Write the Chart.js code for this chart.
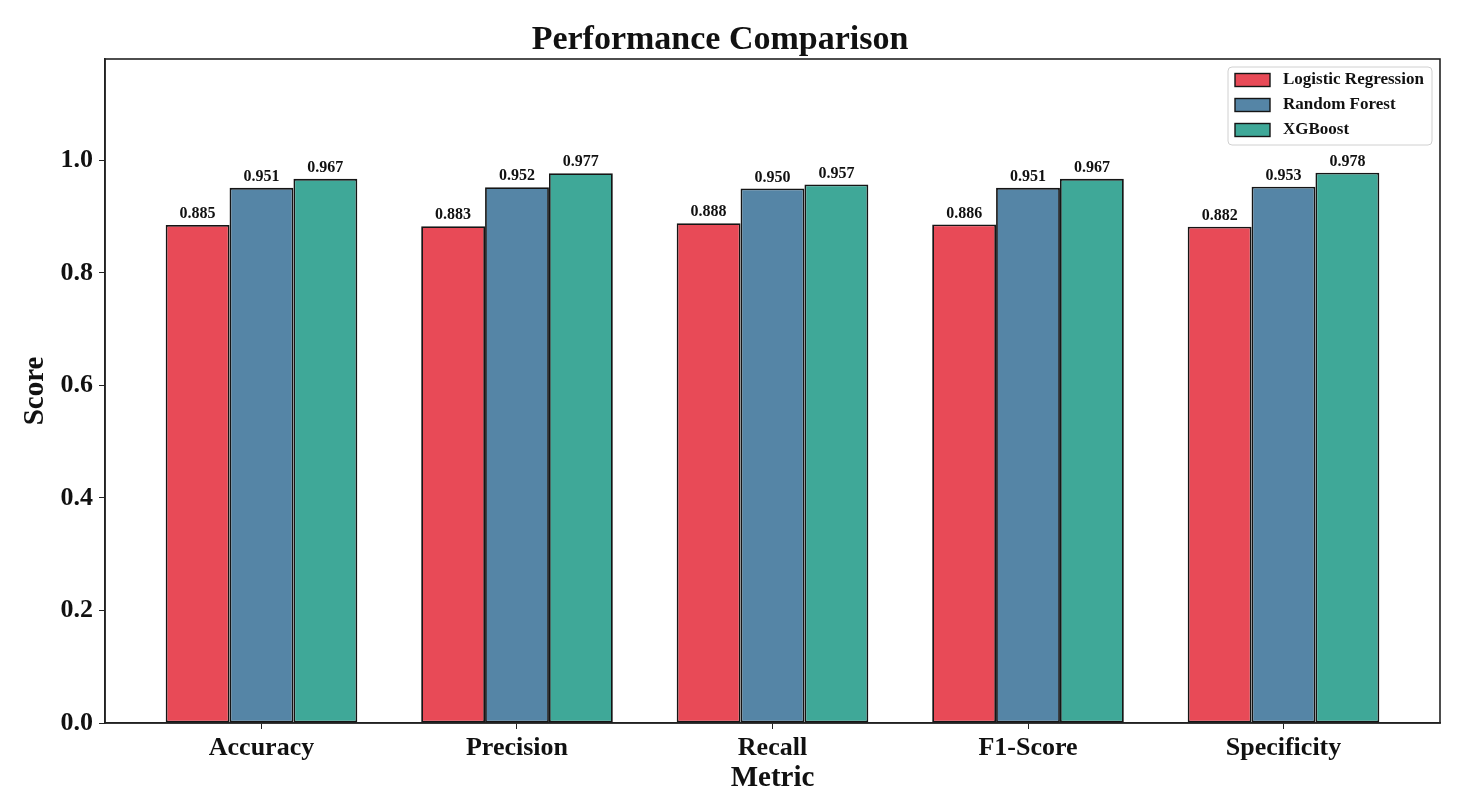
<!DOCTYPE html>
<html>
<head>
<meta charset="utf-8">
<script src="https://cdn.jsdelivr.net/npm/chart.js@4.4.0/dist/chart.umd.min.js"></script>
<style>
  html, body { margin: 0; padding: 0; background: #fff; }
  #wrap { width: 1467px; height: 808px; }
</style>
</head>
<body>
<div id="wrap"><canvas id="barCanvas" width="1467" height="808"></canvas></div>
<script>
const categories = ['Accuracy', 'Precision', 'Recall', 'F1-Score', 'Specificity'];
const seriesNames = ['Logistic Regression', 'Random Forest', 'XGBoost'];
const logisticValues = [0.885, 0.883, 0.888, 0.886, 0.882];
const forestValues = [0.951, 0.952, 0.950, 0.951, 0.953];
const xgbValues = [0.967, 0.977, 0.957, 0.967, 0.978];
const yTicks = [0.0, 0.2, 0.4, 0.6, 0.8, 1.0];

const colors = ['#E84A57', '#5585A6', '#3FA898'];
const serif = "'Liberation Serif', 'Times New Roman', serif";

let toPoints = function (vals) {
    return vals.map(function (v, i) { return { x: i, y: v }; });
};

let makeSet = function (name, vals, color) {
    return {
        label: name,
        data: toPoints(vals),
        backgroundColor: color,
        borderColor: '#151515',
        borderWidth: 1.8,
        borderSkipped: false,
        categoryPercentage: 0.75,
        barPercentage: 1.0
    };
};

// frame + value labels + legend box inside the plot
let extrasPlugin = {
    id: 'extras',
    afterDatasetsDraw: function (chart) {
        let ctx = chart.ctx;
        let a = chart.chartArea;
        ctx.save();
        ctx.font = 'bold 16px ' + serif;
        ctx.fillStyle = '#111';
        ctx.textAlign = 'center';
        ctx.textBaseline = 'bottom';
        chart.data.datasets.forEach(function (ds, di) {
            chart.getDatasetMeta(di).data.forEach(function (bar, i) {
                ctx.fillText(ds.data[i].y.toFixed(3), bar.x, bar.y - 3);
            });
        });

        // box round the plot
        ctx.strokeStyle = '#222';
        ctx.lineWidth = 1.6;
        ctx.strokeRect(a.left, a.top, a.right - a.left, a.bottom - a.top);

        // legend
        let lx = a.right - 212, ly = a.top + 8, lw = 204, lh = 78;
        ctx.fillStyle = 'rgba(255,255,255,0.85)';
        ctx.strokeStyle = '#d0d0d0';
        ctx.lineWidth = 1;
        ctx.beginPath();
        ctx.roundRect(lx, ly, lw, lh, 4);
        ctx.fill();
        ctx.stroke();
        ctx.font = 'bold 17px ' + serif;
        ctx.textAlign = 'left';
        ctx.textBaseline = 'middle';
        chart.data.datasets.forEach(function (ds, di) {
            let cy = ly + 13 + di * 25;
            ctx.fillStyle = ds.backgroundColor;
            ctx.fillRect(lx + 7, cy - 6.5, 35, 13);
            ctx.strokeStyle = '#151515';
            ctx.lineWidth = 1.4;
            ctx.strokeRect(lx + 7, cy - 6.5, 35, 13);
            ctx.fillStyle = '#111';
            ctx.fillText(ds.label, lx + 55, cy);
        });
        ctx.restore();
    }
};

let barChartDraw = function () {
    let ctx = document.getElementById('barCanvas').getContext('2d');

    window.barChart = new Chart(ctx, {
        type: 'bar',
        data: {
            datasets: [
                makeSet(seriesNames[0], logisticValues, colors[0]),
                makeSet(seriesNames[1], forestValues, colors[1]),
                makeSet(seriesNames[2], xgbValues, colors[2])
            ]
        },
        options: {
            responsive: false,
            animation: false,
            events: [],
            layout: { padding: { left: 0, right: 27, top: 0, bottom: 0 } },
            plugins: {
                legend: { display: false },
                tooltip: { enabled: false },
                title: {
                    display: true,
                    text: 'Performance Comparison',
                    color: '#111',
                    font: { family: serif, size: 34, weight: 'bold', lineHeight: 1 },
                    padding: { top: 23, bottom: 2 }
                }
            },
            scales: {
                x: {
                    type: 'linear',
                    offset: false,
                    min: -0.6125,
                    max: 4.6125,
                    afterBuildTicks: function (scale) {
                        scale.ticks = categories.map(function (c, i) { return { value: i }; });
                    },
                    afterFit: function (scale) { scale.height = 85; },
                    ticks: {
                        color: '#111',
                        font: { family: serif, size: 26, weight: 'bold' },
                        padding: 4,
                        maxRotation: 0,
                        autoSkip: false,
                        callback: function (v) { return categories[v]; }
                    },
                    grid: { display: true, offset: false, drawOnChartArea: false, drawTicks: true, tickLength: 6, color: '#222' },
                    border: { display: true, color: '#222', width: 1.6 },
                    title: {
                        display: true,
                        text: 'Metric',
                        color: '#111',
                        font: { family: serif, size: 29, weight: 'bold' },
                        padding: { top: 0, bottom: 12 }
                    }
                },
                y: {
                    min: 0,
                    max: 1.18,
                    afterBuildTicks: function (scale) {
                        scale.ticks = yTicks.map(function (v) { return { value: v }; });
                    },
                    afterFit: function (scale) { scale.width = 105; },
                    ticks: {
                        color: '#111',
                        font: { family: serif, size: 26, weight: 'bold' },
                        padding: 6,
                        callback: function (v) { return v.toFixed(1); }
                    },
                    grid: { display: true, drawOnChartArea: false, drawTicks: true, tickLength: 6, color: '#222' },
                    border: { display: true, color: '#222', width: 1.6 },
                    title: {
                        display: true,
                        text: 'Score',
                        color: '#111',
                        font: { family: serif, size: 29, weight: 'bold' },
                        padding: { top: 18, bottom: 0 }
                    }
                }
            }
        },
        plugins: [extrasPlugin]
    });
};

window.onload = function () {
    barChartDraw();
};
</script>
</body>
</html>
